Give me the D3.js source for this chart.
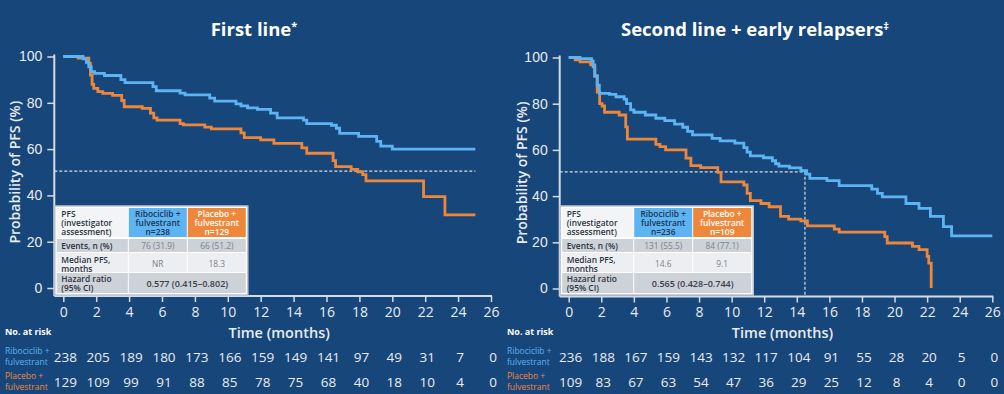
<!DOCTYPE html>
<html>
<head>
<meta charset="utf-8">
<script src="https://cdn.jsdelivr.net/npm/d3@7"></script>
<style>
  html, body { margin: 0; padding: 0; background: #17467a; }
  svg { display: block; }
  text { font-family: "Open Sans", "Noto Sans", sans-serif; }
</style>
</head>
<body>
<div id="chart"></div>
<script>
const width = 1004;
const height = 394;

// Kaplan-Meier steps: [month, % progression-free]
const riboFirst = [[0,100],[1.2,99],[1.4,97.5],[1.55,95.5],[1.7,93.5],[1.9,92.7],[2.5,91.8],[3.5,90],[3.75,88.7],[5.45,87],[5.65,85.2],[7.1,84.2],[7.4,83.4],[8.9,82],[9.2,80.7],[10.5,79.5],[10.8,78.7],[11.2,77.8],[11.8,77.2],[12.6,75.5],[13.0,73.5],[14.6,72.5],[14.8,71],[16.3,70.3],[16.6,69],[16.8,66.8],[17.95,65.5],[19.05,63.3],[19.3,61.3],[20.0,60],[25.05,60]];
const placFirst = [[0,100],[0.9,99.3],[1.55,97],[1.65,92],[1.75,88],[1.85,86.2],[2.1,84.8],[2.4,84.1],[3.0,83.2],[3.55,81],[3.7,78.3],[4.8,77.6],[5.3,75.5],[5.5,73.5],[5.7,72.5],[7.1,71],[7.3,70.5],[8.6,69.5],[9.0,68.7],[10.8,67],[11.0,65],[12.0,64],[12.8,62.5],[14.5,60.5],[14.8,58.2],[16.4,55],[16.55,52.4],[17.5,51.2],[17.9,50.2],[18.2,49],[18.4,46.3],[21.9,39.5],[23.2,31.6],[25.05,31.6]];
const riboSecond = [[0,100],[0.7,99.5],[1.4,98.5],[1.5,96],[1.6,92],[1.75,88],[1.88,84.5],[2.5,84],[2.9,83],[3.4,82],[3.55,80],[3.8,77.3],[4.0,76.3],[4.7,75.1],[5.35,73.7],[5.9,72.7],[6.5,71.2],[7.0,69.8],[7.3,68],[7.6,66.5],[8.8,65],[9.3,63.9],[10.2,62.9],[10.75,61],[10.95,59],[11.15,57.4],[11.95,56.6],[12.5,55.3],[12.7,54],[12.9,53],[13.55,52.2],[14.25,51],[14.6,49.5],[14.8,47.7],[15.85,46.7],[16.6,44.5],[18.6,43],[18.95,41.2],[19.25,39.7],[20.7,36.8],[21.5,34.7],[22.2,31.2],[23.0,26.8],[23.5,22.8],[26.0,22.8]];
const placSecond = [[0,100],[0.4,99],[0.7,98.1],[1.35,96.8],[1.6,92],[1.75,85],[1.9,80],[2.05,79],[2.2,76.3],[3.1,75.1],[3.5,70],[3.6,64.7],[5.35,62.4],[5.6,61.4],[5.95,60],[7.2,56.4],[7.5,53.2],[8.1,52.3],[9.15,50.3],[9.35,46.2],[10.75,44.8],[10.95,41.2],[11.15,38],[11.8,36.8],[12.3,35.4],[13.0,31.2],[13.5,30],[14.25,29.3],[14.65,27.1],[16.3,25.7],[16.6,24.4],[19.4,22.5],[19.55,19.7],[21.1,18.2],[21.5,16.8],[22.0,13.9],[22.1,11],[22.25,0.2]];

// axes and number at risk
const xTicks = [0, 2, 4, 6, 8, 10, 12, 14, 16, 18, 20, 22, 24, 26];
const yTicks = [0, 20, 40, 60, 80, 100];
const riskRiboFirst = [238, 205, 189, 180, 173, 166, 159, 149, 141, 97, 49, 31, 7, 0];
const riskPlacFirst = [129, 109, 99, 91, 88, 85, 78, 75, 68, 40, 18, 10, 4, 0];
const riskRiboSecond = [236, 188, 167, 159, 143, 132, 117, 104, 91, 55, 28, 20, 5, 0];
const riskPlacSecond = [109, 83, 67, 63, 54, 47, 36, 29, 25, 12, 8, 4, 0, 0];

// inset tables
const tableFirst = {
  riboHead: ["Ribociclib +", "fulvestrant", "n=238"],
  placHead: ["Placebo +", "fulvestrant", "n=129"],
  events: ["76 (31.9)", "66 (51.2)"],
  median: ["NR", "18.3"],
  hr: "0.577 (0.415\u20130.802)"
};
const tableSecond = {
  riboHead: ["Ribociclib +", "fulvestrant", "n=236"],
  placHead: ["Placebo +", "fulvestrant", "n=109"],
  events: ["131 (55.5)", "84 (77.1)"],
  median: ["14.6", "9.1"],
  hr: "0.565 (0.428\u20130.744)"
};

const blue = "#5cb4f2";
const orange = "#ef873b";
const axisColor = "#d6dbe2";
const textColor = "#e9ecf0";

const svg = d3.select("#chart").append("svg")
    .attr("width", width)
    .attr("height", height)
    .attr("viewBox", [0, 0, width, height]);

svg.append("rect").attr("width", width).attr("height", height).attr("fill", "#17467a");

function drawPanel(cfg) {
    const g = svg.append("g");
    const x = d3.scaleLinear().domain([0, 26]).range(cfg.xRange);
    const y = d3.scaleLinear().domain([0, 100]).range(cfg.yRange);
    const axisLeft = cfg.xRange[0] - 9;
    const axisBottom = y(0) + 8;

    // title
    g.append("text")
        .attr("x", cfg.titleX).attr("y", 36)
        .attr("text-anchor", "middle")
        .attr("fill", "#ffffff")
        .style("font-size", "18.5px").style("font-weight", 700)
        .text(cfg.title)
      .append("tspan")
        .attr("dy", -6).style("font-size", "11px")
        .text(cfg.titleMark);

    // y axis
    const ya = g.append("g")
        .attr("transform", `translate(${axisLeft},0)`)
        .call(d3.axisLeft(y).tickValues(yTicks).tickSize(7).tickPadding(5));
    ya.select(".domain").remove();
    ya.selectAll("line").attr("stroke", axisColor).attr("stroke-width", 1.5);
    ya.selectAll("text").attr("fill", textColor)
        .style("font-family", "'Liberation Sans', Arial, sans-serif").style("font-size", "14px");

    // x axis
    const xa = g.append("g")
        .attr("transform", `translate(0,${axisBottom})`)
        .call(d3.axisBottom(x).tickValues(xTicks).tickSize(6).tickPadding(5));
    xa.select(".domain").remove();
    xa.selectAll("line").attr("stroke", axisColor).attr("stroke-width", 1.5);
    xa.selectAll("text").attr("fill", textColor).style("font-size", "14px");

    // axis lines
    g.append("line")
        .attr("x1", axisLeft).attr("x2", axisLeft)
        .attr("y1", y(100) - 2).attr("y2", axisBottom)
        .attr("stroke", axisColor).attr("stroke-width", 2);
    g.append("line")
        .attr("x1", axisLeft).attr("x2", x(26) + 1)
        .attr("y1", axisBottom).attr("y2", axisBottom)
        .attr("stroke", axisColor).attr("stroke-width", 2);

    // axis titles
    g.append("text")
        .attr("transform", `translate(${cfg.yTitleX},${(y(0) + y(100)) / 2}) rotate(-90)`)
        .attr("text-anchor", "middle").attr("dy", "0.35em")
        .attr("fill", textColor)
        .style("font-size", "14px").style("font-weight", 600)
        .text("Probability of PFS (%)");
    g.append("text")
        .attr("x", x(13) + 2).attr("y", 338)
        .attr("text-anchor", "middle")
        .attr("fill", textColor)
        .style("font-size", "14.5px").style("font-weight", 600)
        .text("Time (months)");

    // median reference lines
    g.append("line")
        .attr("x1", axisLeft).attr("x2", x(cfg.dashEnd))
        .attr("y1", y(50.5)).attr("y2", y(50.5))
        .attr("stroke", "#d8dde4").attr("stroke-width", 1.2)
        .attr("stroke-dasharray", "3,2");
    if (cfg.dropMedian) {
        g.append("line")
            .attr("x1", x(cfg.dashEnd)).attr("x2", x(cfg.dashEnd))
            .attr("y1", y(50.5)).attr("y2", axisBottom)
            .attr("stroke", "#d8dde4").attr("stroke-width", 1.2)
            .attr("stroke-dasharray", "3,2");
    }

    // curves
    const line = d3.line()
        .x(d => x(d[0]))
        .y(d => y(d[1]))
        .curve(d3.curveStepAfter);
    g.append("path").datum(cfg.plac)
        .attr("fill", "none").attr("stroke", orange).attr("stroke-width", 2.8)
        .attr("d", line);
    g.append("path").datum(cfg.ribo)
        .attr("fill", "none").attr("stroke", blue).attr("stroke-width", 2.8)
        .attr("d", line);

    drawTable(g, axisLeft + 2, 207.5, cfg.table);

    // number at risk
    const riskRows = [
        { values: cfg.riskRibo, y: 362, color: blue, label: ["Ribociclib +", "fulvestrant"] },
        { values: cfg.riskPlac, y: 387, color: orange, label: ["Placebo +", "fulvestrant"] }
    ];
    riskRows.forEach(row => {
        g.append("g").selectAll("text")
            .data(row.values)
            .enter().append("text")
            .attr("x", (d, i) => x(xTicks[i]) + 2)
            .attr("y", row.y)
            .attr("text-anchor", "middle")
            .attr("fill", textColor)
            .style("font-size", "13.5px")
            .text(d => d);
        g.append("text")
            .attr("x", cfg.riskLabelX).attr("y", row.y - 8)
            .attr("fill", row.color)
            .style("font-size", "8.5px")
            .selectAll("tspan")
            .data(row.label)
            .enter().append("tspan")
            .attr("x", cfg.riskLabelX)
            .attr("dy", (d, i) => i === 0 ? 0 : 10.5)
            .text(d => d);
    });
    g.append("text")
        .attr("x", cfg.riskLabelX).attr("y", 335)
        .attr("fill", "#ffffff")
        .style("font-size", "9px").style("font-weight", 700)
        .text("No. at risk");
}

function drawTable(g, x0, y0, t) {
    const cw = [72, 59, 59];
    const rh = [30, 15, 20, 21];
    const cx = [x0, x0 + cw[0], x0 + cw[0] + cw[1], x0 + cw[0] + cw[1] + cw[2]];
    const ry = [y0];
    rh.forEach((h, i) => ry.push(ry[i] + h));
    const tg = g.append("g").style("font-size", "8.4px");

    tg.append("rect")
        .attr("x", cx[0] - 1.5).attr("y", ry[0] - 1.5)
        .attr("width", cx[3] - cx[0] + 3).attr("height", ry[4] - ry[0] + 3)
        .attr("fill", "#ffffff").attr("stroke", "#b8c4d2").attr("stroke-width", 1.5);

    const cells = [
        [0, 0, 1, "#f3f4f5"], [0, 1, 1, "#5cb4f2"], [0, 2, 1, orange],
        [1, 0, 1, "#cdd1d8"], [1, 1, 1, "#cdd1d8"], [1, 2, 1, "#cdd1d8"],
        [2, 0, 1, "#eceef1"], [2, 1, 1, "#eceef1"], [2, 2, 1, "#eceef1"],
        [3, 0, 1, "#cdd1d8"], [3, 1, 2, "#cdd1d8"]
    ];
    tg.selectAll("rect.cell")
        .data(cells)
        .enter().append("rect")
        .attr("class", "cell")
        .attr("x", d => cx[d[1]] + 0.5)
        .attr("y", d => ry[d[0]] + (d[0] === 1 ? 1.5 : 0.5))
        .attr("width", d => cx[d[1] + d[2]] - cx[d[1]] - 1)
        .attr("height", d => ry[d[0] + 1] - ry[d[0]] - (d[0] === 1 ? 2 : 1))
        .attr("fill", d => d[3]);

    function lines(x, y, arr, anchor, color, weight, size) {
        tg.append("text")
            .attr("fill", color)
            .attr("text-anchor", anchor)
            .style("font-weight", weight)
            .style("font-size", size || null)
            .selectAll("tspan")
            .data(arr)
            .enter().append("tspan")
            .attr("x", x)
            .attr("y", (d, i) => y + i * 9.2)
            .text(d => d);
    }
    const dark = "#2c3440";
    const grey = "#7d8288";
    lines(cx[0] + 5, ry[0] + 9, ["PFS", "(investigator", "assessment)"], "start", dark, 600);
    lines((cx[1] + cx[2]) / 2, ry[0] + 9, t.riboHead, "middle", "#1f3550", 600);
    lines((cx[2] + cx[3]) / 2, ry[0] + 9, t.placHead, "middle", "#ffffff", 600);
    lines(cx[0] + 5, ry[1] + 11.5, ["Events, n (%)"], "start", dark, 600);
    lines((cx[1] + cx[2]) / 2, ry[1] + 11.5, [t.events[0]], "middle", grey, 400);
    lines((cx[2] + cx[3]) / 2, ry[1] + 11.5, [t.events[1]], "middle", grey, 400);
    lines(cx[0] + 5, ry[2] + 10.5, ["Median PFS,", "months"], "start", dark, 600);
    lines((cx[1] + cx[2]) / 2, ry[2] + 14.5, [t.median[0]], "middle", grey, 400);
    lines((cx[2] + cx[3]) / 2, ry[2] + 14.5, [t.median[1]], "middle", grey, 400);
    lines(cx[0] + 5, ry[3] + 9.5, ["Hazard ratio", "(95% CI)"], "start", dark, 600);
    lines((cx[1] + cx[3]) / 2, ry[3] + 14, [t.hr], "middle", "#3a4048", 600, "9px");
}

drawPanel({
    title: "First line", titleMark: "*", titleX: 254,
    xRange: [63.3, 491], yRange: [288, 56.5],
    yTitleX: 15, riskLabelX: 5,
    ribo: riboFirst, plac: placFirst,
    riskRibo: riskRiboFirst, riskPlac: riskPlacFirst,
    dashEnd: 25.05, dropMedian: false,
    table: tableFirst
});

drawPanel({
    title: "Second line + early relapsers", titleMark: "\u2021", titleX: 755,
    xRange: [568.7, 992.3], yRange: [288.5, 57.5],
    yTitleX: 522, riskLabelX: 507,
    ribo: riboSecond, plac: placSecond,
    riskRibo: riskRiboSecond, riskPlac: riskPlacSecond,
    dashEnd: 14.5, dropMedian: true,
    table: tableSecond
});
</script>
</body>
</html>
